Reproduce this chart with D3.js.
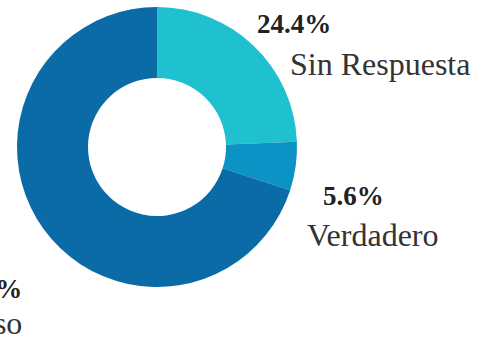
<!DOCTYPE html>
<html>
<head>
<meta charset="utf-8">
<script src="https://cdn.jsdelivr.net/npm/d3@7"></script>
<style>
  html, body { margin: 0; padding: 0; background: #fff; }
  svg { display: block; }
</style>
</head>
<body>
<svg id="chart" width="488" height="340"></svg>
<script>
// Answer categories and their shares (percent)
const categories = ["Sin Respuesta", "Verdadero", "Falso"];
const values = [24.4, 5.6, 70.0];
const colors = ["#1fc0d0", "#0b93c5", "#0b6ba7"];

// Where each category's label block sits (left x of value line / name line, baselines)
const labelLayout = {
  "Sin Respuesta": { vx: 257, vy: 33, nx: 290, ny: 75 },
  "Verdadero":     { vx: 323, vy: 205, nx: 307, ny: 246 },
  "Falso":         { vx: -52, vy: 298, nx: -47, ny: 334 }
};

const svg = d3.select("#chart");
const cx = 157, cy = 147, outerR = 140, innerR = 69;

const data = categories.map((c, i) => ({ category: c, value: values[i], color: colors[i] }));

const pie = d3.pie().value(d => d.value).sort(null);
const arc = d3.arc().innerRadius(innerR).outerRadius(outerR);

const g = svg.append("g").attr("transform", `translate(${cx},${cy})`);
g.selectAll("path")
  .data(pie(data))
  .join("path")
  .attr("d", arc)
  .attr("fill", d => d.data.color);

const fmt = d3.format(".1f");
const labels = svg.append("g")
  .attr("font-family", "'Liberation Serif', 'Times New Roman', serif");

data.forEach(d => {
  const L = labelLayout[d.category];
  labels.append("text")
    .attr("x", L.vx).attr("y", L.vy)
    .attr("font-size", 27).attr("font-weight", "bold")
    .attr("fill", "#222")
    .text(fmt(d.value) + "%");
  labels.append("text")
    .attr("x", L.nx).attr("y", L.ny)
    .attr("font-size", 32)
    .attr("fill", "#333")
    .text(d.category);
});
</script>
</body>
</html>
